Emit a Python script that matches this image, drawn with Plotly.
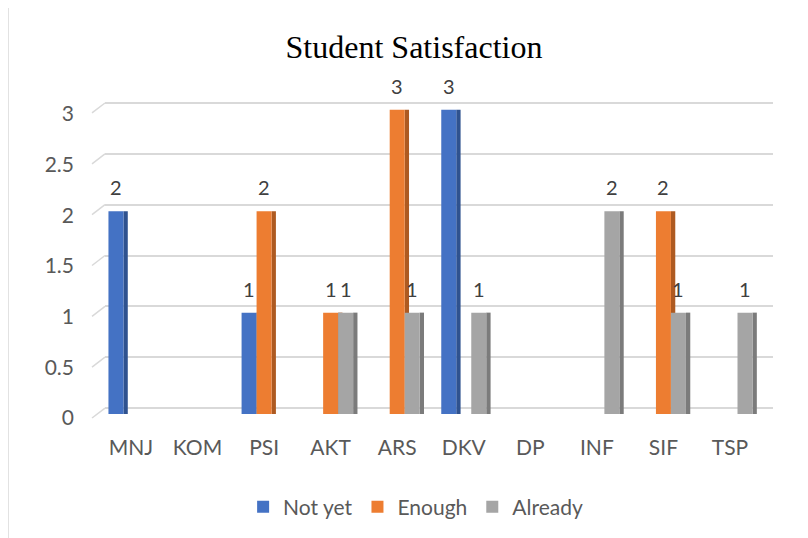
import plotly.graph_objects as go

categories = ["MNJ", "KOM", "PSI", "AKT", "ARS", "DKV", "DP", "INF", "SIF", "TSP"]
not_yet = [2, None, 1, None, None, 3, None, None, None, None]
enough = [None, None, 2, 1, 3, None, None, None, 2, None]
already = [None, None, None, 1, 1, 1, None, 2, 1, 1]
series_names = ["Not yet", "Enough", "Already"]
y_ticks = [0, 0.5, 1, 1.5, 2, 2.5, 3]
y_tick_text = ["0", "0.5", "1", "1.5", "2", "2.5", "3"]

series = [not_yet, enough, already]
front_colors = ["#4472C4", "#ED7D31", "#A5A5A5"]
side_colors = ["#2F528F", "#AE5A21", "#7B7B7B"]

W = 0.2254          # bar width (category units)
SIDE = 0.065        # 3D side face width
offsets = [-1.5 * W, -0.5 * W, 0.5 * W]
idx = list(range(len(categories)))

FONT = "Lato"
# page has an 8px body margin; figure is laid out in page coords minus 8
PL, PR, PT, PB = 97, 765, 92, 412   # plot area in figure px
fig = go.Figure()

# side faces (drawn first so neighbouring fronts cover them)
for s, vals in enumerate(series):
    fig.add_trace(go.Bar(
        x=idx, y=vals, width=SIDE, offset=offsets[s] + W,
        marker=dict(color=side_colors[s], line=dict(width=0)),
        showlegend=False, hoverinfo="skip", yaxis="y2",
    ))

# front faces
for s, vals in enumerate(series):
    fig.add_trace(go.Bar(
        x=idx, y=vals, width=W, offset=offsets[s], name=series_names[s],
        marker=dict(color=front_colors[s], line=dict(width=0)),
        yaxis="y2",
    ))

# data labels
for s, vals in enumerate(series):
    for i, v in enumerate(vals):
        if v is None:
            continue
        fig.add_annotation(
            x=i + offsets[s] + W / 2, y=v, xref="x", yref="y2",
            text=str(v), showarrow=False, yanchor="bottom", yshift=10,
            font=dict(family=FONT, size=20, color="#404040"),
        )

# slanted 3D stubs at the left of each gridline
for t in y_ticks:
    fig.add_shape(type="line", xref="paper", yref="y",
                  x0=-13 / 668, x1=0, y0=t - 10 / 102, y1=t,
                  line=dict(color="#D9D9D9", width=1.5))

# outer chart border
fig.add_shape(type="rect", xref="paper", yref="paper",
              x0=-97 / 668, x1=1.06, y0=-0.42, y1=(412 + 1) / 320,
              line=dict(color="#D9D9D9", width=1.5), fillcolor="rgba(0,0,0,0)")

fig.update_layout(
    width=800, height=530,
    margin=dict(l=PL, r=800 - PR, t=PT, b=530 - PB),
    paper_bgcolor="white", plot_bgcolor="white",
    barmode="overlay",
    title=dict(text="Student Satisfaction", x=(414 - 8) / 800, xref="container",
               y=1 - (47 - 8) / 530, yref="container", xanchor="center", yanchor="middle",
               font=dict(family="Liberation Serif", size=32, color="#000000")),
    xaxis=dict(range=[-0.39, 9.646], tickvals=idx, ticktext=categories,
               showgrid=False, zeroline=False, showline=False, ticks="",
               ticklabelstandoff=14,
               tickfont=dict(family=FONT, size=21, color="#595959")),
    yaxis=dict(range=[(409 - 420) / 102, (409 - 100) / 102],
               tickvals=y_ticks, showticklabels=False, showgrid=True,
               gridcolor="#D9D9D9", gridwidth=1.5, zeroline=False, showline=False,
               ticks=""),
    yaxis2=dict(range=[(415 - 420) / 101.7, (415 - 100) / 101.7], overlaying="y",
                side="left", anchor="x", tickvals=y_ticks, ticktext=y_tick_text,
                showgrid=False, zeroline=False, showline=False, ticks="",
                ticklabelstandoff=30, ticklabelshift=4,
                tickfont=dict(family=FONT, size=21, color="#595959")),
    legend=dict(orientation="h", x=0.465, xanchor="center", y=(420 - 507) / 320,
                yanchor="middle", font=dict(family=FONT, size=21, color="#595959"),
                traceorder="normal"),
    showlegend=True,
)

fig.write_html("out.html")
